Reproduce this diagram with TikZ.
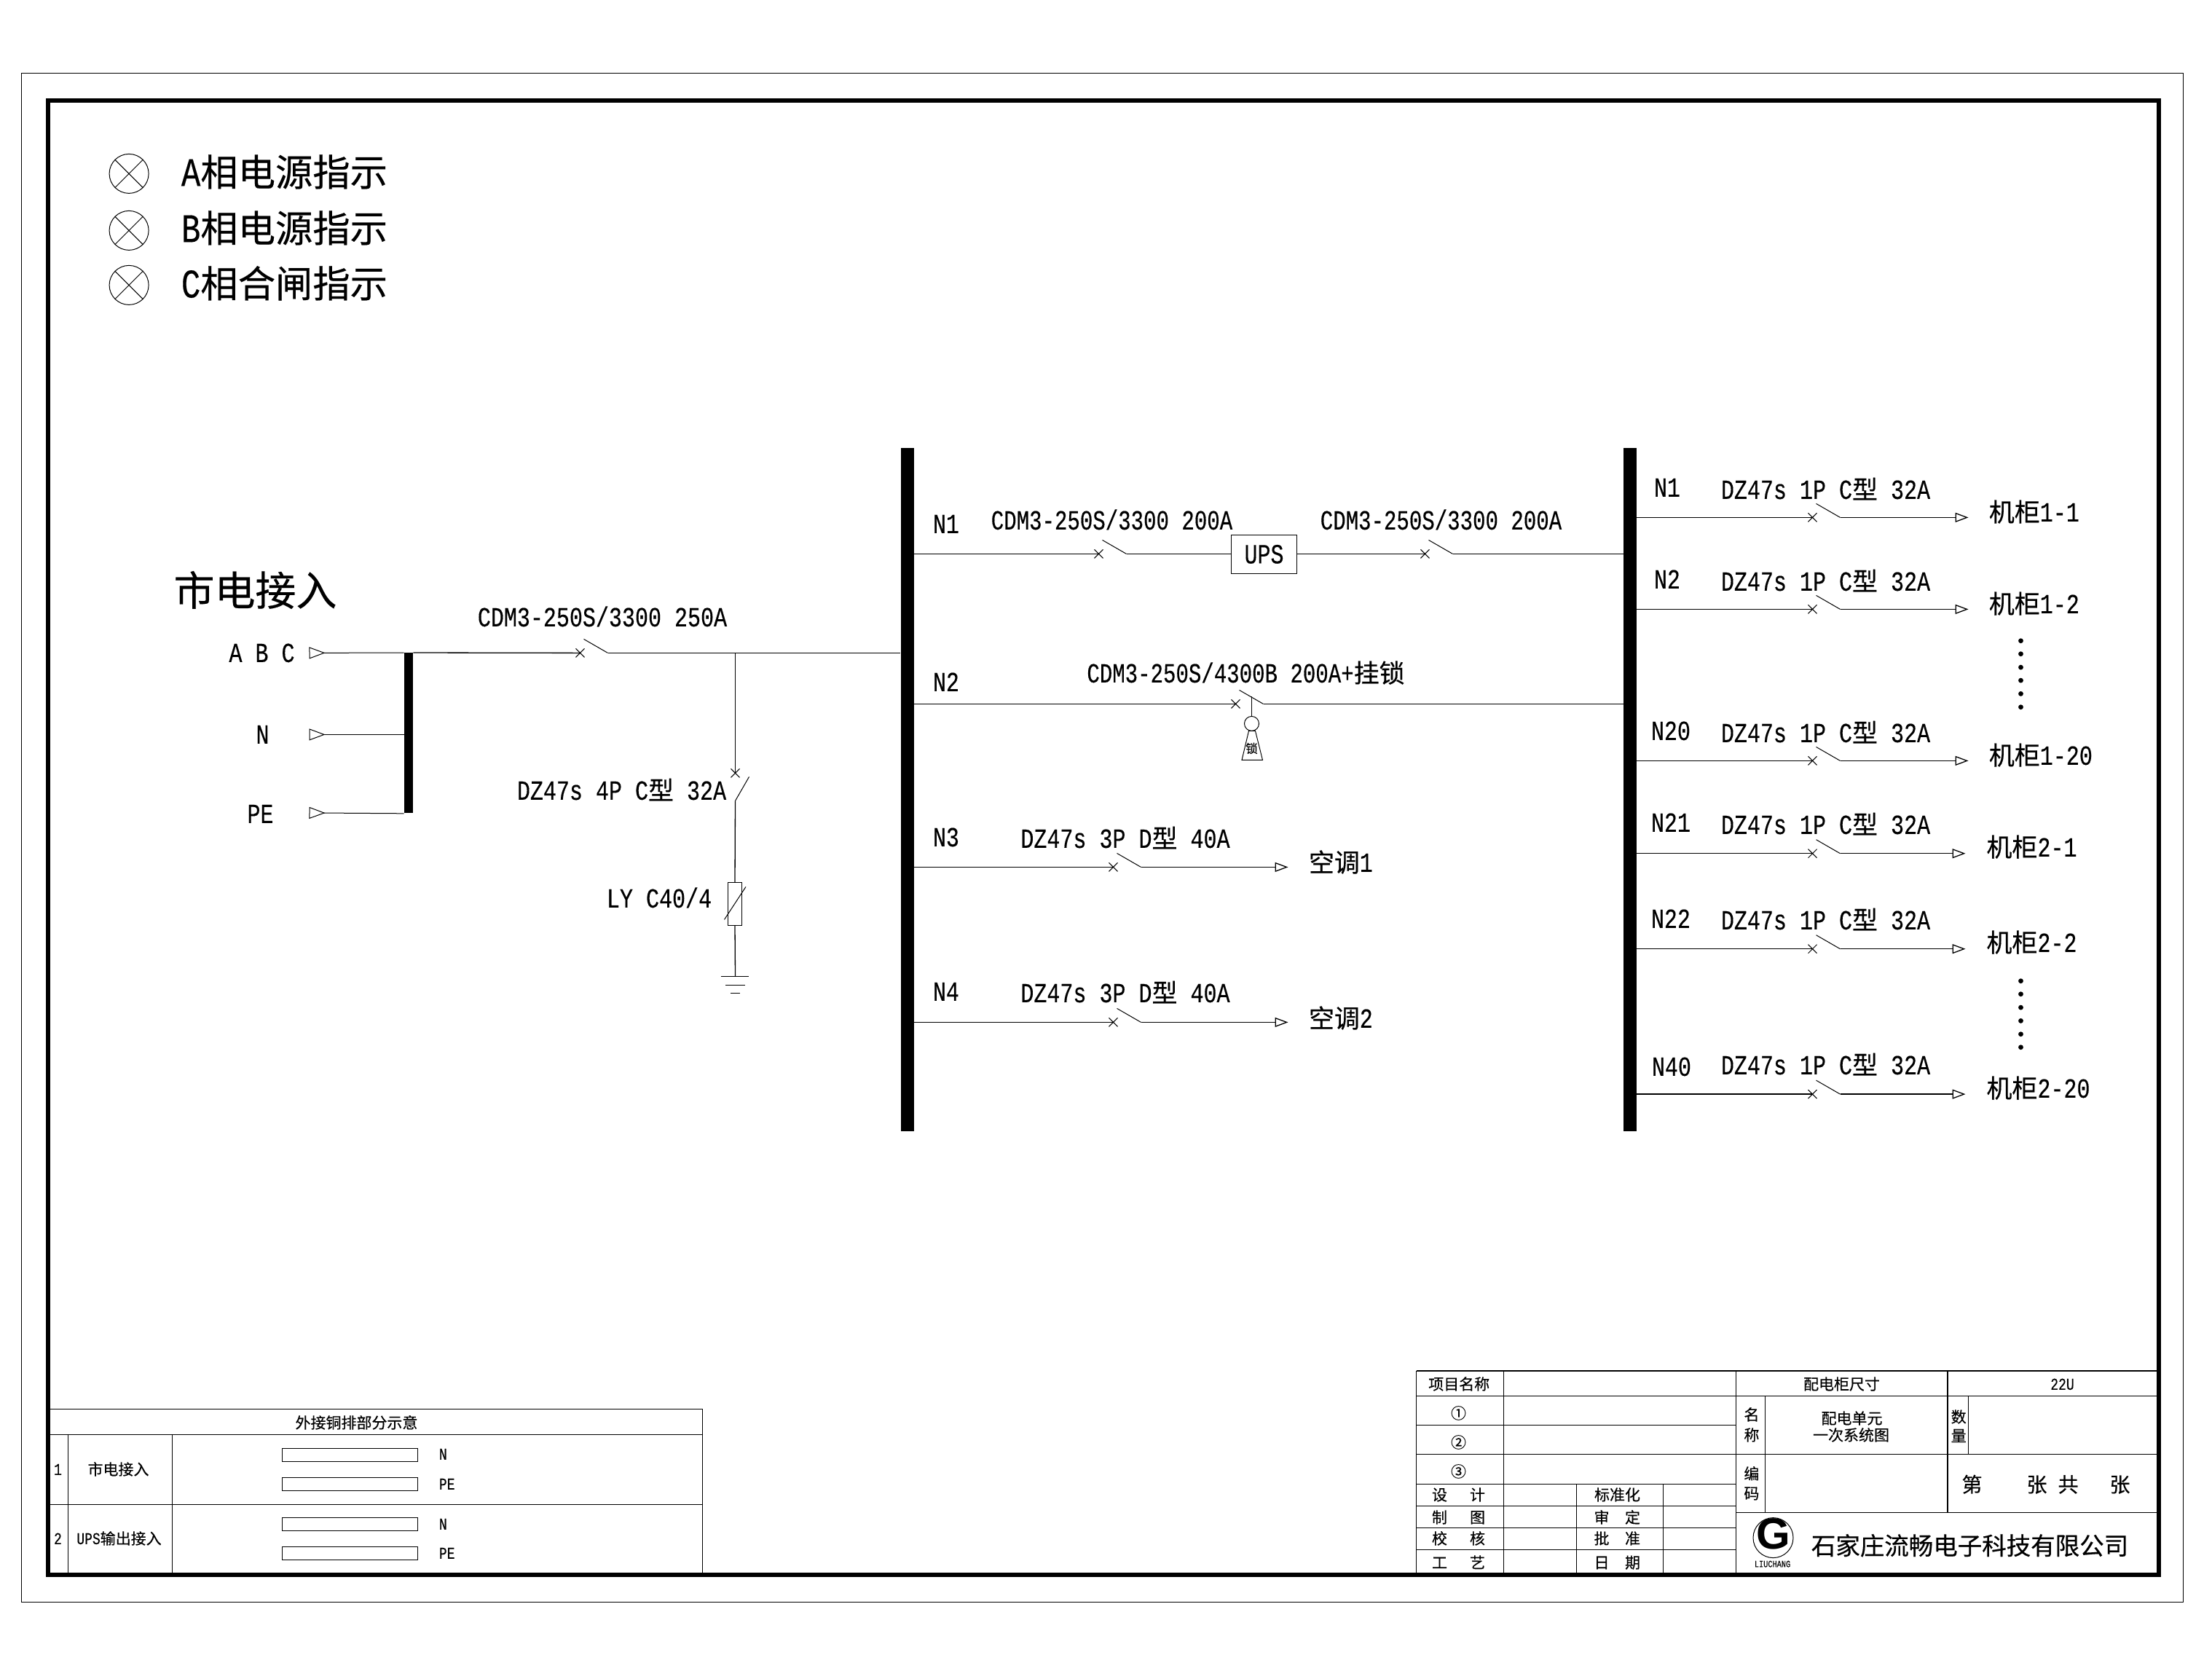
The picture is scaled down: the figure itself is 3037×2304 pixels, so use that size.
\documentclass[tikz,border=0pt]{standalone}
\usepackage{fontspec}
\usetikzlibrary{arrows.meta}
\setmainfont[FakeStretch=0.79,FakeBold=0.3]{Liberation Mono}
\newfontfamily\narrowfont[FakeStretch=0.765,FakeBold=0.3]{Liberation Mono}
\newfontfamily\cjk[Scale=0.92,FakeBold=0.4]{Noto Sans CJK SC}
\newfontfamily\logofont[Scale=1]{Liberation Sans}
\newcommand\zh[1]{{\cjk #1}}
\tikzset{
    wire/.style={line width=0.65pt},
    thinline/.style={line width=0.55pt},
    term/.style={line width=0.5pt, {Triangle[open,reversed,length=11pt,width=8pt]}-},
    feed/.style={line width=0.65pt, -{Triangle[open,length=9pt,width=6.5pt]}},
    bus/.style={fill=black, inner sep=0pt, minimum width=#1},
    txt/.style={inner sep=0pt, text height=12.5pt, text depth=0pt, font=\fontsize{19}{19}\selectfont},
    txtn/.style={txt, font=\narrowfont\fontsize{19}{19}\selectfont},
    txtsm/.style={inner sep=0pt, text height=7.5pt, text depth=0pt, font=\fontsize{11.4}{11.4}\selectfont},
    lamp/.style={circle, draw, line width=0.5pt, inner sep=0pt, minimum size=27pt},
    legend/.style={inner sep=0pt, anchor=west, text height=18pt, text depth=0pt, font=\fontsize{27.9}{27.9}\selectfont},
    dotmark/.style={circle, fill=black, inner sep=0pt, minimum size=3.4pt},
    brk/.pic={
        \draw[line width=0.5pt] (-6,-6) -- (6,6) (-6,6) -- (6,-6);
        \draw[line width=0.5pt] (5,-19) -- (38,0);
        \coordinate (-i) at (0,0);
        \coordinate (-o) at (38,0);
    }
}
\begin{document}
\begin{tikzpicture}[x=0.5pt, y=-0.5pt, shift={(-0.5,0.4)}]
    \useasboundingbox (0.5,-0.4) rectangle (3037.5,2303.6);
    % frames
    \draw[line width=0.5pt] (30,100) rectangle (2998,2199);
    \draw[line width=3pt] (66,138) rectangle (2964,2162);

    % indicators
    \foreach \y/\yt/\t [count=\i] in {238/237/A\zh{相电源指示}, 316/314/B\zh{相电源指示}, 391/390/C\zh{相合闸指示}} {
        \node[lamp] (lamp\i) at (177.6,\y) {};
        \draw[line width=0.5pt] (lamp\i.45) -- (lamp\i.225) (lamp\i.135) -- (lamp\i.315);
        \node[legend] (leg\i) at (249,\yt) {\t};
    }

    % incoming side
    \node[inner sep=0pt, text height=21pt, text depth=0pt, font=\fontsize{30.4}{30.4}\selectfont] (mains) at (351,810) {\zh{市电接入}};
    \node[txt] (abc) at (360,896) {A B C};
    \node[txt] (nin) at (361,1008) {N};
    \node[txt] (pein) at (358,1117) {PE};
    \node[bus=6pt, minimum height=110pt] (inbar) at (561.5,1006) {};
    \coordinate (tabc) at (425,896);
    \coordinate (tn) at (425,1008);
    \coordinate (tpe) at (425,1115.5);
    \draw[term] (tabc) -- (inbar.north west);
    \draw[term] (tn) -- (tn -| inbar.west);
    \draw[term] (tpe) -- (inbar.south west);

    % busbars
    \node[bus=9pt, minimum height=469pt] (busa) at (1246,1084) {};
    \node[bus=9pt, minimum height=469pt] (busb) at (2238.5,1084) {};

    \pic (q0) at (797,896) {brk};
    \draw[wire] (inbar.north east) -- (q0-i);
    \draw[wire] (q0-o) -- (busa.west |- q0-o);
    \node[txt] (q0t) at (827.5,847) {CDM3-250S/3300 250A};

    % surge branch
    \coordinate (tap) at (1010,896);
    \pic[rotate=-90] (q1) at (1010,1061) {brk};
    \draw[wire] (tap) -- (q1-i);
    \node[txt, anchor=east] (q1t) at (998,1085) {DZ47s 4P C\zh{型} 32A};
    \node[draw, line width=0.5pt, inner sep=0pt, minimum width=9.2pt, minimum height=29.5pt] (spd) at (1009.5,1240.5) {};
    \draw[line width=0.5pt] (995,1262) -- (1024.5,1217);
    \node[txt, anchor=east] (spdt) at (978,1233) {LY C40/4};
    \coordinate (gnd) at (1010,1340);
    \draw[wire] (q1-o) -- (spd.north);
    \draw[wire] (spd.south) -- (gnd);
    \draw[wire] (990,1340) -- (1028,1340) (996.5,1352) -- (1023,1352) (1003.5,1363) -- (1016,1363);

    % left bus labels
    \foreach \t/\y in {N1/719, N2/936, N3/1149, N4/1361}
        \node[txt, anchor=west] (l\t) at (1281,\y) {\t};

    % UPS line
    \node[draw, line width=0.5pt, txt, inner sep=0pt, minimum width=45pt, minimum height=26.5pt] (ups) at (1736,760.5) {UPS};
    \pic (q2) at (1509,760) {brk};
    \pic (q3) at (1957,760) {brk};
    \draw[wire] (busa.east |- q2-i) -- (q2-i);
    \draw[wire] (q2-o) -- (ups.west |- q2-o);
    \draw[wire] (ups.east |- q3-i) -- (q3-i);
    \draw[wire] (q3-o) -- (busb.west |- q3-o);
    \node[txtn] (q2t) at (1527,714) {CDM3-250S/3300 200A};
    \node[txtn] (q3t) at (1979,714) {CDM3-250S/3300 200A};

    % bypass with lock
    \pic (q4) at (1697,966) {brk};
    \draw[wire] (busa.east |- q4-i) -- (q4-i);
    \draw[wire] (q4-o) -- (busb.west |- q4-o);
    \node[txtn] (q4t) at (1711,924) {CDM3-250S/4300B 200A+\zh{挂锁}};
    \node[circle, draw, line width=0.5pt, inner sep=0pt, minimum size=10pt] (ball) at (1719,993) {};
    \coordinate (stem) at (1719,956);
    \draw[line width=0.5pt] (stem) -- (ball.north);
    \draw[line width=0.5pt] (1715,1003) -- (1705.5,1043) -- (1734,1043) -- (1724,1003) -- cycle;
    \node[inner sep=0pt, font=\fontsize{9}{9}\selectfont] (lockt) at (1719,1027) {\zh{锁}};

    % aircon feeders
    \foreach \t/\yl/\yt/\yz [count=\i] in {1/1190/1151/1184, 2/1403/1363/1398} {
        \pic (ac\i) at (1529,\yl) {brk};
        \coordinate (act\i) at (1769,\yl);
        \draw[wire] (busa.east |- ac\i-i) -- (ac\i-i);
        \draw[feed] (ac\i-o) -- (act\i);
        \node[txt] (acd\i) at (1545.5,\yt) {DZ47s 3P D\zh{型} 40A};
        \node[txt, anchor=west] (acn\i) at (1797,\yz) {\zh{空调}\t};
    }

    % rack feeders
    \foreach \t/\xn/\yn/\yd/\yl/\xe/\xc/\yc/\r in {
        N1/2271/669/672/710/2703/2731/703/1-1,
        N2/2271/795/798/836/2703/2731/829/1-2,
        N20/2267/1003/1006/1044/2703/2731/1037/1-20,
        N21/2267/1129/1132/1171.3/2699/2727.6/1163/2-1,
        N22/2267/1261/1263/1302.3/2699/2727.6/1294/2-2,
        N40/2268/1464/1462/1501.7/2699/2727.6/1494/2-20} {
        \pic (r\t) at (2489,\yl) {brk};
        \coordinate (re\t) at (\xe,\yl);
        \draw[wire] (busb.east |- r\t-i) -- (r\t-i);
        \draw[feed] (r\t-o) -- (re\t);
        \node[txt, anchor=west] (rn\t) at (\xn,\yn) {\t};
        \node[txt] (rd\t) at (2507,\yd) {DZ47s 1P C\zh{型} 32A};
        \node[txt, anchor=west] (rc\t) at (\xc,\yc) {\zh{机柜}\r};
    }
    \foreach \y [count=\i] in {879.3, 897.3, 915.7, 933.7, 952, 970.3, 1346.3, 1364.3, 1382.7, 1401, 1419.3, 1437.3}
        \node[dotmark] (dot\i) at (2775,\y) {};

    % copper bar table
    \draw[thinline] (66,1934) -- (964.7,1934) -- (964.7,2162);
    \draw[thinline] (66,1969) -- (964.7,1969) (66,2065) -- (964.7,2065);
    \draw[thinline] (94,1969) -- (94,2162) (237,1969) -- (237,2162);
    \node[txtsm] (cbt) at (490,1953) {\zh{外接铜排部分示意}};
    \foreach \x/\y/\t [count=\i] in {80/2017/1, 163/2017/\zh{市电接入}, 80/2112/2, 164/2112/UPS\zh{输出接入}}
        \node[txtsm] (cb\i) at (\x,\y) {\t};
    \foreach \y/\yt/\t [count=\i] in {1996.7/1996/N, 2037/2037/PE, 2092/2092/N, 2132.3/2132/PE} {
        \node[draw, line width=0.5pt, inner sep=0pt, minimum width=93pt, minimum height=9pt] (cu\i) at (481.3,\y) {};
        \node[txtsm, anchor=west] (cun\i) at (603,\yt) {\t};
    }

    % title block
    \draw[line width=1pt] (1945,1881.7) -- (2964,1881.7);
    \draw[thinline] (1945,1881.7) -- (1945,2162) (2064.6,1881.7) -- (2064.6,2162);
    \draw[thinline] (2384.4,1881.7) -- (2384.4,2162) (2674.5,1881.7) -- (2674.5,2076.3);
    \draw[thinline] (2164.7,2036.7) -- (2164.7,2162) (2284.3,2036.7) -- (2284.3,2162);
    \draw[thinline] (2424.3,1916) -- (2424.3,2076.3) (2702.8,1916) -- (2702.8,1996.3);
    \draw[thinline] (1945,1916) -- (2964,1916) (1945,1956.3) -- (2384.4,1956.3) (1945,1996.3) -- (2964,1996.3);
    \draw[thinline] (1945,2036.7) -- (2384.4,2036.7) (1945,2066.7) -- (2384.4,2066.7);
    \draw[thinline] (1945,2096.7) -- (2384.4,2096.7) (1945,2126.7) -- (2384.4,2126.7) (2384.4,2076.3) -- (2964,2076.3);
    \foreach \x/\y/\t [count=\i] in {
        2003.7/1900/\zh{项目名称}, 2529/1900/\zh{配电柜尺寸}, 2832/1900/22U,
        2003/1940/\zh{①}, 2003/1980/\zh{②}, 2003/2020/\zh{③},
        2405.4/1942/\zh{名}, 2405.4/1970/\zh{称}, 2689.7/1945/\zh{数}, 2689.7/1971/\zh{量},
        2543/1947/\zh{配电单元}, 2542/1970/\zh{一次系统图}, 2405.4/2023/\zh{编}, 2405.4/2050/\zh{码},
        1977/2052/\zh{设}, 2029/2052/\zh{计}, 1977/2083/\zh{制}, 2029/2083/\zh{图},
        1977/2112/\zh{校}, 2029/2112/\zh{核}, 1977/2145/\zh{工}, 2029/2145/\zh{艺},
        2221/2052/\zh{标准化}, 2199.5/2083/\zh{审}, 2242/2083/\zh{定},
        2199.5/2112/\zh{批}, 2242/2112/\zh{准}, 2199.5/2145/\zh{日}, 2242/2145/\zh{期}}
        \node[txtsm] (tb\i) at (\x,\y) {\t};
    \foreach \x/\t [count=\i] in {2708/第, 2797/张, 2840/共, 2911/张}
        \node[inner sep=0pt, text height=10pt, text depth=0pt, font=\fontsize{15.2}{15.2}\selectfont] (pg\i) at (\x,2038) {\zh{\t}};

    % logo
    \node[circle, draw, line width=0.5pt, inner sep=0pt, minimum size=27.5pt] (logoc) at (2435,2110.7) {};
    \node[inner sep=0pt, text height=15pt, text depth=0pt, font=\logofont\fontsize{30}{30}\selectfont\bfseries] (logog) at (logoc.center) {G};
    \node[inner sep=0pt, text height=4pt, text depth=0pt, font=\fontsize{6.5}{6.5}\selectfont] (logot) at (2434,2147) {LIUCHANG};
    \node[inner sep=0pt, text height=12pt, text depth=0pt, font=\fontsize{18.2}{18.2}\selectfont] (corp) at (2705,2122) {\zh{石家庄流畅电子科技有限公司}};
\end{tikzpicture}
\end{document}
